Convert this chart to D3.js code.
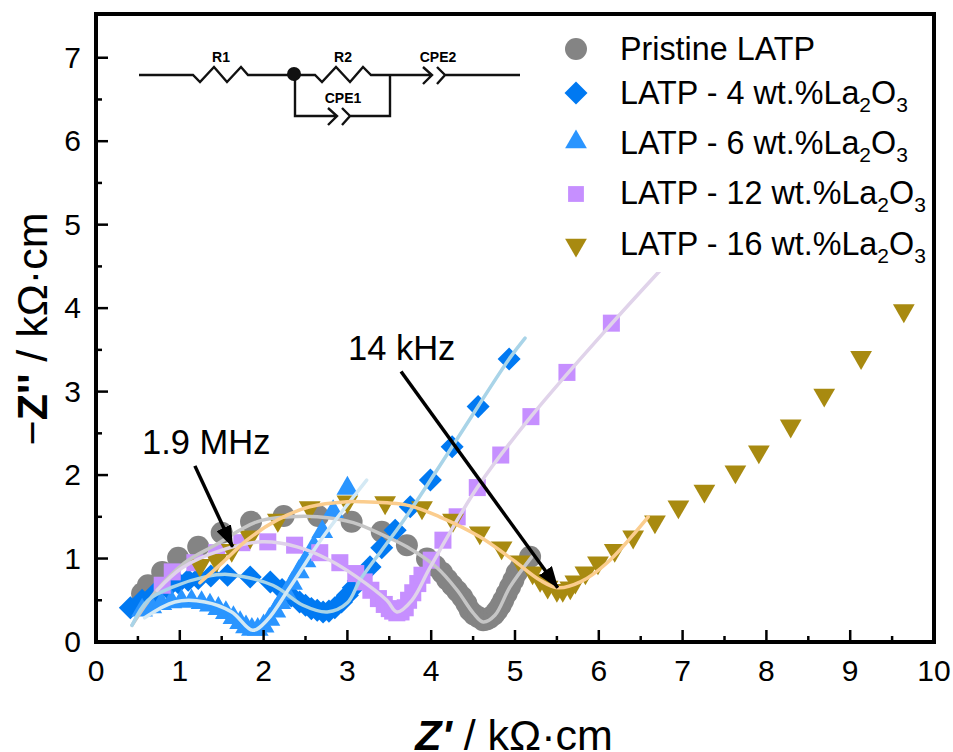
<!DOCTYPE html>
<html>
<head>
<meta charset="utf-8">
<script src="https://cdn.jsdelivr.net/npm/d3@7"></script>
<style>
body { margin: 0; background: white; }
text { font-family: "Liberation Sans", Arial, sans-serif; fill: black; }
</style>
</head>
<body>
<div id="container"></div>
<script>
// markers: [Z', -Z'']
var pristine = [[.55,.58],[.62,.68],[.79,.84],[.98,1.01],[1.22,1.14],[1.50,1.31],[1.85,1.44],[2.24,1.51],[2.65,1.51],[3.05,1.44],[3.41,1.32],[3.71,1.16],[3.95,1.0],[4.05,.91],[4.13,.83],[4.19,.75],[4.25,.68],[4.31,.61],[4.37,.54],[4.42,.46],[4.46,.38],[4.51,.33],[4.56,.30],[4.62,.26],[4.66,.27],[4.70,.29],[4.75,.33],[4.79,.38],[4.83,.44],[4.86,.50],[4.90,.58],[4.94,.66],[4.98,.74],[5.02,.83],[5.07,.90],[5.18,1.02]];
var wt4 = [[.41,.41],[.55,.50],[.7,.58],[.85,.65],[.98,.71],[1.10,.74],[1.22,.76],[1.37,.79],[1.57,.80],[1.84,.78],[2.08,.72],[2.22,.63],[2.33,.55],[2.43,.48],[2.5,.44],[2.57,.40],[2.64,.38],[2.71,.36],[2.78,.37],[2.85,.41],[2.93,.48],[3.0,.56],[3.07,.65],[3.13,.73],[3.27,.90],[3.41,1.13],[3.57,1.34],[3.75,1.62],[3.99,1.94],[4.25,2.34],[4.56,2.82],[4.93,3.39]];
var wt6 = [[.55,.38],[.66,.42],[.78,.46],[.9,.48],[1.02,.49],[1.14,.49],[1.26,.47],[1.36,.44],[1.46,.40],[1.55,.35],[1.64,.29],[1.72,.23],[1.79,.18],[1.86,.15],[1.93,.15],[2.0,.19],[2.07,.27],[2.14,.37],[2.2,.47],[2.27,.58],[2.34,.70],[2.42,.84],[2.5,.97],[2.6,1.14],[2.7,1.32],[2.83,1.56],[3.0,1.84]];
var wt12 = [[.79,.68],[.91,.84],[1.18,.95],[1.44,1.07],[1.74,1.19],[2.05,1.20],[2.37,1.16],[2.67,1.07],[2.91,.95],[3.10,.82],[3.2,.72],[3.28,.62],[3.37,.52],[3.44,.45],[3.5,.40],[3.54,.37],[3.59,.35],[3.64,.36],[3.69,.41],[3.73,.50],[3.78,.59],[3.84,.70],[3.89,.80],[4.0,.98],[4.14,1.22],[4.31,1.50],[4.55,1.85],[4.83,2.24],[5.19,2.70],[5.62,3.23],[6.15,3.82]];
var wt16 = [[1.24,.92],[1.44,.98],[1.62,1.10],[1.84,1.26],[2.17,1.46],[2.55,1.61],[3.0,1.68],[3.45,1.67],[3.89,1.61],[4.26,1.46],[4.58,1.31],[4.84,1.13],[5.06,.96],[5.21,.83],[5.30,.74],[5.39,.66],[5.50,.62],[5.57,.62],[5.66,.65],[5.72,.72],[5.84,.83],[5.99,.95],[6.19,1.10],[6.41,1.26],[6.67,1.44],[6.95,1.62],[7.26,1.81],[7.63,2.04],[7.91,2.28],[8.29,2.59],[8.69,2.96],[9.13,3.41],[9.64,3.97]];

// fitted curves
var fitPristine = [[.43,.20],[.70,.59],[1.06,.95],[1.42,1.16],[1.92,1.44],[2.32,1.50],[2.64,1.50],[3.07,1.43],[3.47,1.26],[3.71,1.14],[4.07,.89],[4.31,.62],[4.50,.35],[4.62,.24],[4.76,.32],[4.94,.66],[5.20,1.02]];
var fit4 = [[.43,.20],[.62,.50],[.92,.66],[1.30,.78],[1.57,.81],[2.11,.68],[2.47,.44],[2.76,.36],[3.0,.47],[3.15,.74],[3.41,1.10],[3.66,1.44],[4.25,2.34],[4.93,3.39],[5.12,3.64]];
var fit6 = [[.58,.29],[.94,.48],[1.30,.48],[1.62,.36],[1.87,.14],[2.04,.26],[2.31,.65],[2.71,1.26],[3.23,1.94]];
var fit12 = [[.73,.62],[1.03,.89],[1.50,1.10],[1.98,1.20],[2.40,1.14],[2.79,.98],[3.11,.78],[3.47,.50],[3.59,.36],[3.77,.50],[3.99,.90],[4.55,1.85],[5.19,2.70],[6.15,3.81],[6.87,4.60]];
var fit16 = [[1.24,.71],[1.52,.96],[1.80,1.22],[2.16,1.46],[2.55,1.62],[3.0,1.68],[3.19,1.68],[3.71,1.64],[4.10,1.50],[4.58,1.26],[4.98,.98],[5.30,.74],[5.51,.65],[5.78,.72],[6.10,.95],[6.59,1.50]];

var xTicks = [0,1,2,3,4,5,6,7,8,9,10];
var yTicks = [0,1,2,3,4,5,6,7];
var xMinor = d3.range(0.5, 10, 1);
var yMinor = d3.range(0.5, 7.5, 1);

var seriesNames = ["Pristine LATP", "LATP - 4 wt.%La", "LATP - 6 wt.%La", "LATP - 12 wt.%La", "LATP - 16 wt.%La"];
var seriesData = [pristine, wt4, wt6, wt12, wt16];
var fitData = [fitPristine, fit4, fit6, fit12, fit16];
var markerColors = ["#848484", "#0079f2", "#2a95ff", "#c68fff", "#a88a10"];
var fitColors = ["#c6c6c6", "#a9d4e8", "#d4e9f4", "#e0d3ea", "#fbcd8e"];

var width = 953, height = 752;
var plotLeft = 96, plotRight = 934, plotTop = 16, plotBottom = 642;

var svg = d3.select("#container").append("svg")
    .attr("width", width)
    .attr("height", height);

var x = d3.scaleLinear().domain([0, 10]).range([plotLeft, plotRight]);
var y = d3.scaleLinear().domain([0, 7.5]).range([plotBottom, plotTop]);

var markers = [
    d3.symbol().type(d3.symbolCircle).size(380),
    d3.symbol().type(d3.symbolSquare).size(265),
    d3.symbol().type(d3.symbolTriangle).size(205),
    d3.symbol().type(d3.symbolSquare).size(290),
    d3.symbol().type(d3.symbolTriangle).size(205)
];
var rotation = [0, 45, 0, 0, 180];

function markerTransform(i, px, py) {
    return "translate(" + px + "," + py + ") rotate(" + rotation[i] + ")";
}

// markers first, fits run over the top of all of them
seriesData.forEach(function(data, i) {
    svg.append("g").selectAll("path")
        .data(data)
        .enter()
        .append("path")
        .attr("d", markers[i]())
        .attr("fill", markerColors[i])
        .attr("transform", function(d) { return markerTransform(i, x(d[0]), y(d[1])); });
});

var line = d3.line()
    .x(function(d) { return x(d[0]); })
    .y(function(d) { return y(d[1]); })
    .curve(d3.curveCatmullRom.alpha(0.5));

fitData.forEach(function(data, i) {
    svg.append("path")
        .attr("d", line(data))
        .attr("fill", "none")
        .attr("stroke", fitColors[i])
        .attr("stroke-width", 3.5)
        .attr("stroke-linecap", "round");
});

// legend has a white box, it cuts off the 12 wt.% fit
svg.append("rect")
    .attr("x", 545).attr("y", 20)
    .attr("width", 386).attr("height", 252)
    .attr("fill", "white");

var legendMarkY = [49, 93, 142, 194, 245];
var legendTextY = [60, 104, 154, 204, 255];
var legendSize = [380, 265, 205, 250, 205];

seriesNames.forEach(function(name, i) {
    svg.append("path")
        .attr("d", d3.symbol().type(i == 0 ? d3.symbolCircle : (i == 2 || i == 4) ? d3.symbolTriangle : d3.symbolSquare).size(legendSize[i])())
        .attr("fill", markerColors[i])
        .attr("transform", markerTransform(i, 576, legendMarkY[i]));

    var t = svg.append("text")
        .attr("x", 620)
        .attr("y", legendTextY[i])
        .attr("font-size", 32.3)
        .text(name);
    if (i > 0) {
        t.append("tspan").attr("font-size", 21).attr("dy", 8).text("2");
        t.append("tspan").attr("font-size", 32.3).attr("dy", -8).text("O");
        t.append("tspan").attr("font-size", 21).attr("dy", 8).text("3");
    }
});

// axes, ticks point inwards
var axisBottom = svg.append("g").attr("transform", "translate(0," + plotBottom + ")");
axisBottom.selectAll("line.major").data(xTicks).enter().append("line")
    .attr("class", "major")
    .attr("x1", x).attr("x2", x).attr("y1", 0).attr("y2", -12)
    .attr("stroke", "black").attr("stroke-width", 2.5);
axisBottom.selectAll("line.minor").data(xMinor).enter().append("line")
    .attr("class", "minor")
    .attr("x1", x).attr("x2", x).attr("y1", 0).attr("y2", -6)
    .attr("stroke", "black").attr("stroke-width", 2.5);
axisBottom.selectAll("text").data(xTicks).enter().append("text")
    .attr("x", x).attr("y", 39)
    .attr("text-anchor", "middle")
    .attr("font-size", 30)
    .text(function(d) { return d; });

var axisLeft = svg.append("g").attr("transform", "translate(" + plotLeft + ",0)");
axisLeft.selectAll("line.major").data(yTicks).enter().append("line")
    .attr("class", "major")
    .attr("y1", y).attr("y2", y).attr("x1", 0).attr("x2", 12)
    .attr("stroke", "black").attr("stroke-width", 2.5);
axisLeft.selectAll("line.minor").data(yMinor).enter().append("line")
    .attr("class", "minor")
    .attr("y1", y).attr("y2", y).attr("x1", 0).attr("x2", 6)
    .attr("stroke", "black").attr("stroke-width", 2.5);
axisLeft.selectAll("text").data(yTicks).enter().append("text")
    .attr("x", -15)
    .attr("y", function(d) { return y(d) + 10; })
    .attr("text-anchor", "end")
    .attr("font-size", 30)
    .text(function(d) { return d; });

svg.append("rect")
    .attr("x", plotLeft).attr("y", 14)
    .attr("width", plotRight - plotLeft).attr("height", plotBottom - 14)
    .attr("fill", "none")
    .attr("stroke", "black")
    .attr("stroke-width", 4);

// axis titles
var xTitle = svg.append("text")
    .attr("x", 514).attr("y", 750)
    .attr("text-anchor", "middle")
    .attr("font-size", 43);
xTitle.append("tspan").attr("font-style", "italic").attr("font-weight", "bold").text("Z'");
xTitle.append("tspan").text(" / kΩ·cm");

var yTitle = svg.append("text")
    .attr("transform", "translate(47,329) rotate(-90)")
    .attr("text-anchor", "middle")
    .attr("font-size", 43);
yTitle.append("tspan").text("−");
yTitle.append("tspan").attr("font-weight", "bold").text("Z''");
yTitle.append("tspan").text(" / kΩ·cm");

// frequency callouts
var notes = [
    { label: "1.9 MHz", lx: 142, ly: 454, from: [1.18, 2.11], to: [1.63, 1.14] },
    { label: "14 kHz", lx: 348, ly: 360, from: [3.64, 3.24], to: [5.51, 0.65] }
];

var defs = svg.append("defs");
defs.append("marker")
    .attr("id", "arrow")
    .attr("viewBox", "0 0 22 16")
    .attr("refX", 21).attr("refY", 8)
    .attr("markerWidth", 22).attr("markerHeight", 16)
    .attr("markerUnits", "userSpaceOnUse")
    .attr("orient", "auto")
    .append("path")
    .attr("d", "M0,0L22,8L0,16Z")
    .attr("fill", "black");

notes.forEach(function(n) {
    svg.append("text")
        .attr("x", n.lx).attr("y", n.ly)
        .attr("font-size", 34.5)
        .text(n.label);
    svg.append("line")
        .attr("x1", x(n.from[0])).attr("y1", y(n.from[1]))
        .attr("x2", x(n.to[0])).attr("y2", y(n.to[1]))
        .attr("stroke", "black")
        .attr("stroke-width", 3.5)
        .attr("marker-end", "url(#arrow)");
});

// equivalent circuit inset
var circuit = svg.append("g")
    .attr("fill", "none")
    .attr("stroke", "#111")
    .attr("stroke-width", 2.4);
circuit.append("path").attr("d",
    "M139,75H193L200,82L214,67L227,82L241,67L248,75H315" +
    "L322,82L336,67L350,82L363,67L371,75H432" +
    "M390,75V116H350M295,75V116H337" +
    // CPE1
    "M328,108L337,116L328,125M342,108L350,116L342,125" +
    // CPE2
    "M423,67L432,75L423,84M437,67L445,75L437,84M445,75H520");
svg.append("circle")
    .attr("cx", 294).attr("cy", 74).attr("r", 7)
    .attr("fill", "#111");

var circuitLabels = [["R1", 221, 62], ["R2", 343, 62], ["CPE2", 438, 62], ["CPE1", 343, 103]];
circuitLabels.forEach(function(c) {
    svg.append("text")
        .attr("x", c[1]).attr("y", c[2])
        .attr("text-anchor", "middle")
        .attr("font-size", 14)
        .attr("font-weight", "bold")
        .text(c[0]);
});
</script>
</body>
</html>
